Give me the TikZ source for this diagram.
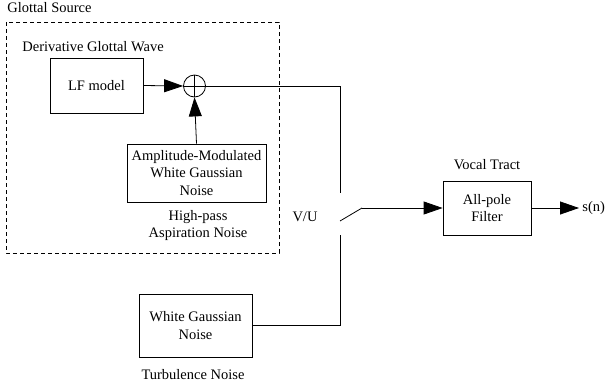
\documentclass[tikz,border=0pt]{standalone}
\usepackage{fontspec}
\setmainfont{Liberation Serif}
\usetikzlibrary{arrows.meta}
\begin{document}
\begin{tikzpicture}[x=1pt,y=-1pt,
  font=\rmfamily\fontsize{14.5}{17.5}\selectfont,
  line width=0.8pt,
  blk/.style={draw, rectangle, align=center, inner sep=0pt},
  lbl/.style={align=center, inner sep=0pt},
  arr/.style={-{Triangle[length=19pt,width=13pt]}},
  dashbox/.style={draw, dash pattern=on 4pt off 3pt, line width=0.7pt}]
\useasboundingbox (0,0) rectangle (607,389);
% glottal source dashed frame
\draw[dashbox] (6,22) rectangle (279,253);
\node[lbl, anchor=west] (gs) at (7,8) {Glottal Source};
\node[lbl, anchor=west] (dgw) at (22,47) {Derivative Glottal Wave};
\node[blk, minimum width=93pt, minimum height=55pt] (lf) at (96.5,85.5) {LF model};
\node[draw, circle, minimum size=22pt, inner sep=0pt,
  path picture={\draw (path picture bounding box.north) -- (path picture bounding box.south)
                      (path picture bounding box.west) -- (path picture bounding box.east);}] (sum) at (194.5,86) {};
\node[blk, minimum width=139pt, minimum height=58pt] (am) at (196.5,173) {Amplitude-Modulated\\White Gaussian\\Noise};
\node[lbl] (hp) at (198,225.5) {High-pass\\Aspiration Noise};
\node[lbl] (vu) at (305,217) {V/U};
% switch
\coordinate (swtop) at (340,193);
\coordinate (swbot) at (340,235);
\coordinate (swpiv) at (340,221);
\coordinate (swend) at (362,208);
% vocal tract
\node[blk, minimum width=88pt, minimum height=54pt] (flt) at (487,208) {All-pole\\Filter};
\node[lbl] (vt) at (487,165) {Vocal Tract};
\coordinate (outend) at (579,208);
\node[lbl, anchor=west] (sn) at (582,208) {s(n)};
% turbulence
\node[blk, minimum width=113pt, minimum height=63pt] (wgn) at (195.5,325.5) {White Gaussian\\Noise};
\node[lbl] (tn) at (193,375) {Turbulence Noise};
% connectors
\draw[arr] (lf.east) -- (sum.west);
\draw[arr] (am.north) -- (sum.south);
\draw (sum.east) -| (swtop);
\draw (wgn.east) -| (swbot);
\draw (swpiv) -- (swend);
\draw[arr] (swend) -- (flt.west);
\draw[arr] (flt.east) -- (outend);
\end{tikzpicture}
\end{document}
